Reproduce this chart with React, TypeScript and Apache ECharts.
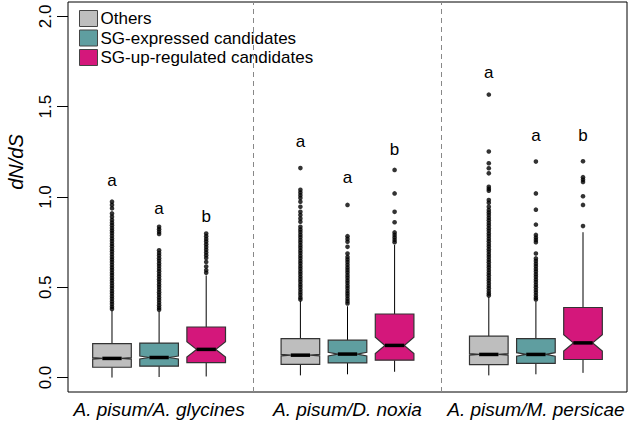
import { useEffect, useRef } from "react";
import * as echarts from "echarts";

const FONT = '"Liberation Sans", Arial, Helvetica, sans-serif';

const groupLabels = ["A. pisum/A. glycines", "A. pisum/D. noxia", "A. pisum/M. persicae"];
const groupLabelPositions = [2, 6, 10];
const separators = [4, 8];
const categories = ["Others", "SG-expressed candidates", "SG-up-regulated candidates"];
const colors = ["#bebebe", "#5f9ea0", "#d4177b"];
const yTicks = [0, 0.5, 1, 1.5, 2];
const yTitle = "dN/dS";

// x positions of each category's boxes in the three comparisons
const othersPos = [1, 5, 9];
const expressedPos = [2, 6, 10];
const upPos = [3, 7, 11];

// [lower whisker, Q1, median, Q3, upper whisker, notch half-height]
const othersStats = [
  [0.0, 0.057, 0.106, 0.188, 0.372, 0.004],
  [0.012, 0.073, 0.124, 0.216, 0.425, 0.004],
  [0.012, 0.072, 0.128, 0.229, 0.446, 0.004],
];
const expressedStats = [
  [0.003, 0.063, 0.111, 0.191, 0.365, 0.008],
  [0.018, 0.081, 0.13, 0.207, 0.395, 0.01],
  [0.018, 0.078, 0.128, 0.216, 0.42, 0.01],
];
const upStats = [
  [0.006, 0.083, 0.156, 0.28, 0.565, 0.042],
  [0.032, 0.096, 0.178, 0.352, 0.735, 0.045],
  [0.026, 0.1, 0.192, 0.388, 0.805, 0.045],
];

// outliers, one list per comparison
const othersOutliers = [
  [0.974, 0.956, 0.937, 0.909, 0.891, 0.872, 0.858, 0.843, 0.828, 0.814, 0.8, 0.785, 0.77, 0.756, 0.741, 0.727, 0.712, 0.698, 0.683, 0.668, 0.654, 0.64, 0.625, 0.61, 0.596, 0.581, 0.567, 0.552, 0.538, 0.523, 0.508, 0.494, 0.479, 0.465, 0.45, 0.436, 0.421, 0.407, 0.392, 0.38],
  [1.16, 1.04, 1.025, 1.01, 0.995, 0.974, 0.946, 0.918, 0.9, 0.881, 0.863, 0.835, 0.82, 0.806, 0.791, 0.777, 0.762, 0.748, 0.733, 0.719, 0.704, 0.69, 0.675, 0.661, 0.646, 0.632, 0.617, 0.603, 0.588, 0.574, 0.559, 0.545, 0.53, 0.516, 0.501, 0.487, 0.472, 0.458, 0.443, 0.432],
  [1.567, 1.252, 1.187, 1.159, 1.131, 1.057, 1.045, 1.035, 0.983, 0.968, 0.946, 0.928, 0.914, 0.9, 0.885, 0.871, 0.856, 0.842, 0.827, 0.813, 0.798, 0.784, 0.769, 0.755, 0.74, 0.726, 0.711, 0.697, 0.682, 0.668, 0.653, 0.639, 0.624, 0.61, 0.595, 0.581, 0.566, 0.552, 0.537, 0.523, 0.508, 0.494, 0.479, 0.465, 0.455],
];
const expressedOutliers = [
  [0.835, 0.822, 0.808, 0.795, 0.705, 0.69, 0.676, 0.661, 0.647, 0.632, 0.618, 0.603, 0.589, 0.574, 0.56, 0.545, 0.531, 0.516, 0.502, 0.487, 0.473, 0.458, 0.444, 0.43, 0.415, 0.4, 0.386, 0.375],
  [0.956, 0.783, 0.768, 0.752, 0.724, 0.687, 0.668, 0.654, 0.64, 0.625, 0.61, 0.596, 0.582, 0.567, 0.553, 0.538, 0.524, 0.509, 0.495, 0.48, 0.466, 0.452, 0.437, 0.423, 0.41],
  [1.196, 1.02, 0.93, 0.847, 0.79, 0.775, 0.762, 0.75, 0.687, 0.66, 0.645, 0.63, 0.616, 0.601, 0.587, 0.572, 0.558, 0.543, 0.529, 0.514, 0.5, 0.485, 0.471, 0.456, 0.442, 0.432],
];
const upOutliers = [
  [0.798, 0.783, 0.768, 0.753, 0.738, 0.723, 0.708, 0.693, 0.678, 0.662, 0.64, 0.615, 0.595, 0.58],
  [1.15, 1.02, 0.918, 0.86, 0.804, 0.79, 0.776, 0.762, 0.75],
  [1.198, 1.11, 1.095, 1.083, 1.004, 0.956, 0.839],
];

// significance letters
const letterPos = [1, 2, 3, 5, 6, 7, 9, 10, 11];
const letterValues = [1.089, 0.937, 0.89, 1.306, 1.106, 1.261, 1.687, 1.339, 1.339];
const letterTexts = ["a", "a", "b", "a", "a", "b", "a", "a", "b"];

const BOX_W = 0.82;

function makeBoxRender(color: string) {
  return (params: any, api: any) => {
    const x = api.value(0);
    const lw = api.value(1);
    const q1 = api.value(2);
    const med = api.value(3);
    const q3 = api.value(4);
    const uw = api.value(5);
    const nh = api.value(6);
    const c = (v: number) => api.coord([x, v]);
    const cx = c(med)[0];
    const half = api.size([BOX_W, 0])[0] / 2;
    const yq1 = c(q1)[1];
    const yq3 = c(q3)[1];
    const ym = c(med)[1];
    const ynl = c(med - nh)[1];
    const ynh = c(med + nh)[1];
    const ylw = c(lw)[1];
    const yuw = c(uw)[1];
    const pts = [
      [cx - half, yq1],
      [cx + half, yq1],
      [cx + half, ynl],
      [cx + half * 0.5, ym],
      [cx + half, ynh],
      [cx + half, yq3],
      [cx - half, yq3],
      [cx - half, ynh],
      [cx - half * 0.5, ym],
      [cx - half, ynl],
    ];
    return {
      type: "group",
      children: [
        { type: "line", shape: { x1: cx, y1: yq1, x2: cx, y2: ylw }, style: { stroke: "#000", lineWidth: 1 } },
        { type: "line", shape: { x1: cx, y1: yq3, x2: cx, y2: yuw }, style: { stroke: "#000", lineWidth: 1 } },
        { type: "polygon", shape: { points: pts }, style: { fill: color, stroke: "#333", lineWidth: 1.2 } },
        {
          type: "line",
          shape: { x1: cx - half * 0.5, y1: ym, x2: cx + half * 0.5, y2: ym },
          style: { stroke: "#000", lineWidth: 3.5 },
        },
      ],
    };
  };
}

export default function App() {
  const ref = useRef<HTMLDivElement>(null);
  useEffect(() => {
    if (!ref.current) return;
    const chart = echarts.init(ref.current, undefined, { renderer: "svg" });
    const statsAll = [othersStats, expressedStats, upStats];
    const posAll = [othersPos, expressedPos, upPos];
    const outAll = [othersOutliers, expressedOutliers, upOutliers];

    const boxSeries = categories.map((name, i) => ({
      name,
      type: "custom",
      itemStyle: { color: colors[i], borderColor: "#333", borderWidth: 1 },
      renderItem: makeBoxRender(colors[i]),
      data: statsAll[i].map((s, g) => [posAll[i][g], ...s]),
      encode: { x: 0, y: [1, 2, 3, 4, 5] },
      z: 2,
    }));

    const outlierData: number[][] = [];
    outAll.forEach((cat, i) =>
      cat.forEach((vals, g) => vals.forEach((v) => outlierData.push([posAll[i][g], v])))
    );

    const option: any = {
      animation: false,
      backgroundColor: "#fff",
      textStyle: { fontFamily: FONT },
      grid: {
        left: 68,
        right: 2,
        top: 2,
        bottom: 29,
        show: true,
        borderColor: "#000",
        borderWidth: 1,
        backgroundColor: "transparent",
      },
      legend: {
        orient: "vertical",
        left: 79,
        top: 10,
        padding: 0,
        itemWidth: 18,
        itemHeight: 16,
        itemGap: 2.5,
        selectedMode: false,
        textStyle: { fontSize: 17, fontFamily: FONT, color: "#000", padding: [0, 0, 0, -2] },
        data: categories.map((n, i) => ({
          name: n,
          icon: "rect",
          itemStyle: { color: colors[i], borderColor: "#444", borderWidth: 1 },
        })),
      },
      xAxis: {
        type: "value",
        min: 0.066,
        max: 11.934,
        axisLine: { show: false },
        axisTick: { show: false },
        splitLine: { show: false },
        axisLabel: {
          customValues: groupLabelPositions,
          formatter: (v: number) => groupLabels[groupLabelPositions.indexOf(v)] ?? "",
          fontStyle: "italic",
          fontSize: 19,
          fontFamily: FONT,
          color: "#000",
          margin: 8,
        },
      },
      yAxis: {
        type: "value",
        min: -0.08,
        max: 2.08,
        axisLine: { show: false },
        splitLine: { show: false },
        axisTick: {
          show: true,
          customValues: yTicks,
          length: 11,
          lineStyle: { color: "#000", width: 1 },
        },
        axisLabel: {
          customValues: yTicks,
          rotate: 90,
          formatter: (v: number) => v.toFixed(1),
          fontSize: 17,
          fontFamily: FONT,
          color: "#000",
          margin: 14,
        },
      },
      series: [
        ...boxSeries,
        {
          name: "outliers",
          type: "scatter",
          data: outlierData,
          symbol: "circle",
          symbolSize: 4.6,
          itemStyle: { color: "#000" },
          silent: true,
          z: 3,
          markLine: {
            silent: true,
            symbol: ["none", "none"],
            label: { show: false },
            lineStyle: { type: [5, 4], color: "#888", width: 1 },
            data: separators.map((s) => ({ xAxis: s })),
          },
        },
        {
          name: "letters",
          type: "custom",
          data: letterPos.map((p, i) => [p, letterValues[i]]),
          encode: { x: 0, y: 1 },
          renderItem: (params: any, api: any) => {
            const pt = api.coord([api.value(0), api.value(1)]);
            return {
              type: "text",
              x: pt[0],
              y: pt[1],
              style: {
                text: letterTexts[params.dataIndex],
                fontSize: 17,
                fontFamily: FONT,
                fill: "#000",
                align: "center",
                verticalAlign: "middle",
              },
            };
          },
          z: 4,
        },
        {
          name: "ytitle",
          type: "custom",
          coordinateSystem: "none",
          data: [0],
          silent: true,
          renderItem: () => ({
            type: "text",
            x: 16,
            y: 162,
            rotation: Math.PI / 2,
            style: {
              text: yTitle,
              fontSize: 20,
              fontStyle: "italic",
              fontFamily: FONT,
              fill: "#000",
              align: "center",
              verticalAlign: "middle",
            },
          }),
        },
      ],
    };
    chart.setOption(option);
    return () => chart.dispose();
  }, []);
  return (
    <div
      ref={ref}
      style={{ position: "fixed", left: 0, top: 0, width: 629, height: 421, background: "#fff" }}
    />
  );
}
